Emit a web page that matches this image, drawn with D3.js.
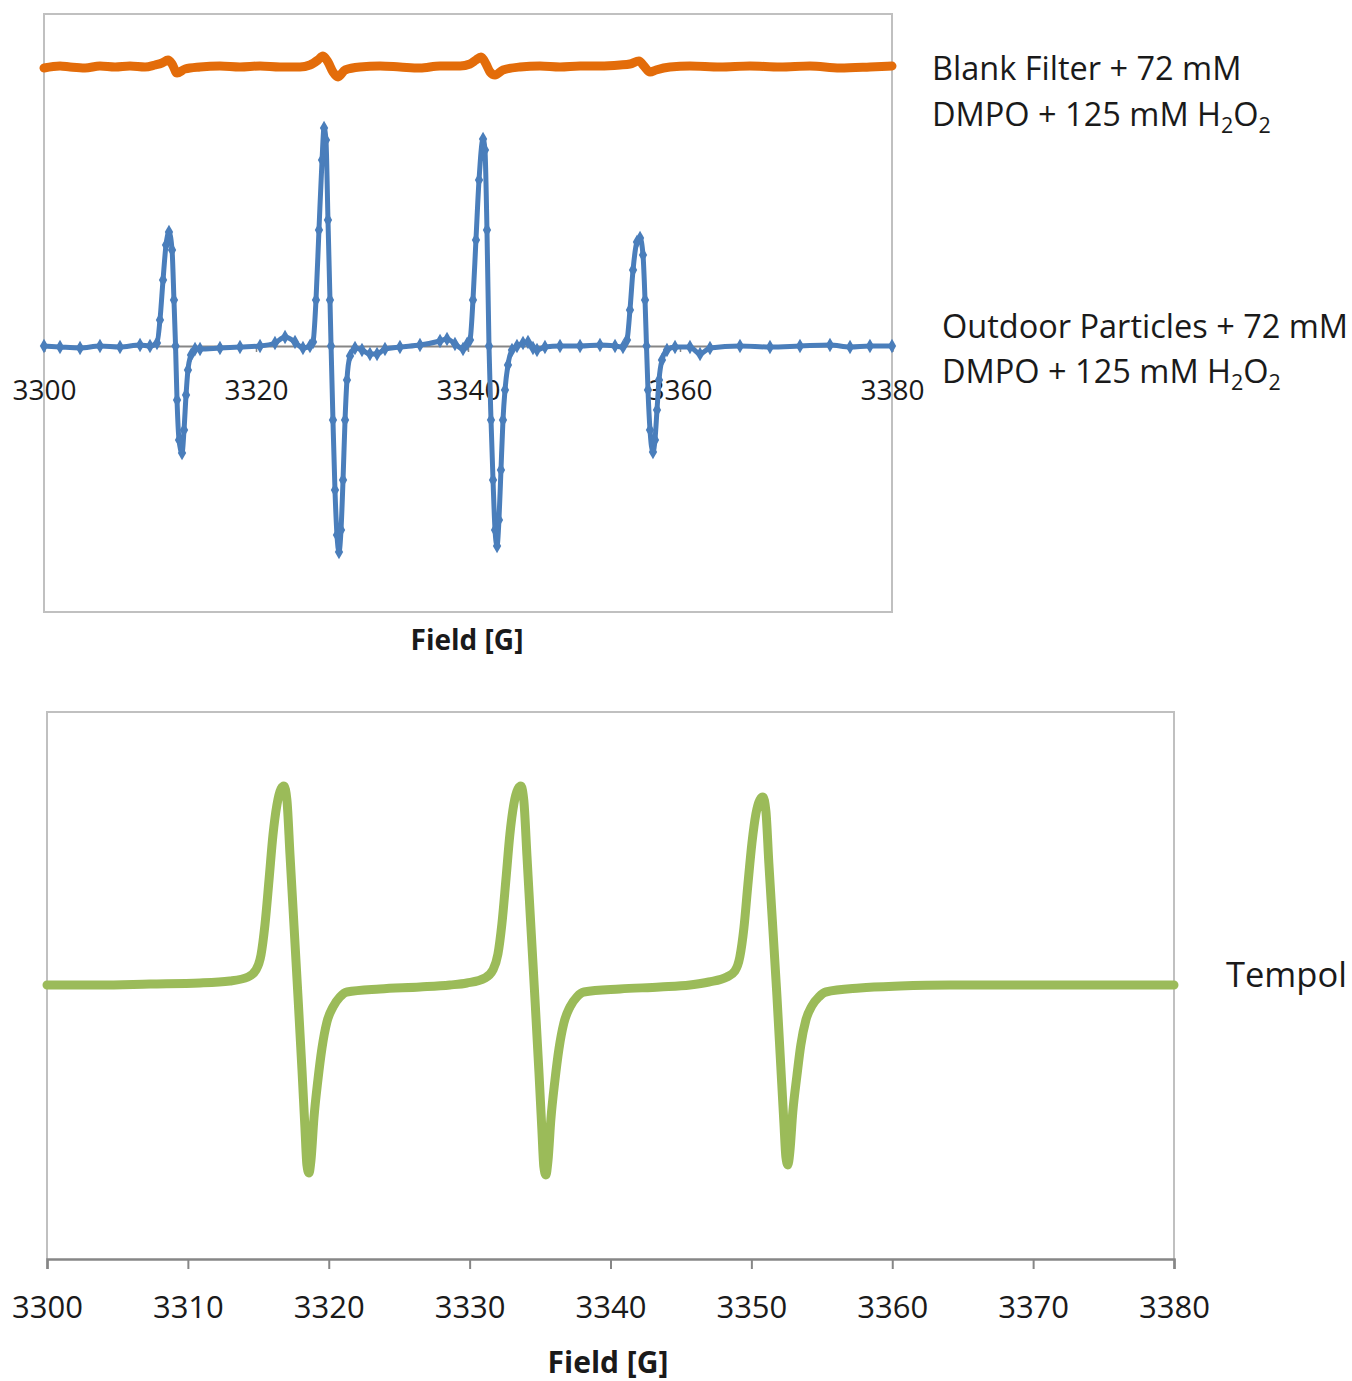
<!DOCTYPE html>
<html>
<head>
<meta charset="utf-8">
<script src="https://cdn.jsdelivr.net/npm/d3@7"></script>
<style>
    body { margin: 0; background: #fff; }
    text { font-family: "Open Sans", "Liberation Sans", sans-serif; fill: #1a1a1a; }
</style>
</head>
<body>
<svg id="chart" width="1352" height="1381"></svg>
<script>
window.addEventListener("load", main);

const WIDTH = 1352;
const HEIGHT = 1381;

// tick labels
const topTicks = [3300, 3320, 3340, 3360, 3380];
const bottomTicks = [3300, 3310, 3320, 3330, 3340, 3350, 3360, 3370, 3380];

// blank filter + DMPO + H2O2 (offset trace, a.u.)
const blankField = [3300.00, 3301.51, 3302.45, 3303.87, 3305.28, 3306.70, 3308.11, 3309.53, 3310.47, 3311.13,
    3311.70, 3312.08, 3312.55, 3313.30, 3314.72, 3316.60, 3318.49, 3320.38, 3322.26, 3324.15,
    3325.09, 3325.85, 3326.32, 3326.79, 3327.26, 3327.74, 3328.40, 3329.81, 3331.70, 3333.58,
    3335.47, 3337.36, 3339.25, 3340.19, 3340.75, 3341.23, 3341.70, 3342.08, 3342.55, 3343.30,
    3344.91, 3346.79, 3348.68, 3350.57, 3352.45, 3354.34, 3355.28, 3356.13, 3356.60, 3357.17,
    3357.74, 3359.06, 3360.94, 3363.77, 3366.60, 3369.43, 3372.26, 3375.09, 3377.92, 3380.00];
const blankSignal = [278, 280, 279, 278, 280, 279, 280, 279, 281, 283,
    286, 282, 273, 277, 279, 280, 279, 280, 279, 279,
    281, 286, 290, 284, 274, 269, 276, 279, 280, 279,
    278, 280, 280, 282, 286, 289, 282, 274, 271, 276,
    279, 280, 279, 280, 280, 281, 282, 285, 280, 274,
    276, 279, 280, 279, 280, 279, 280, 278, 279, 280];

// outdoor particles + DMPO + H2O2 (a.u.)
const particleField = [3300.00, 3301.51, 3303.40, 3305.28, 3307.17, 3309.06, 3310.00, 3310.66, 3310.94, 3311.23,
    3311.51, 3311.79, 3312.08, 3312.26, 3312.41, 3312.55, 3312.74, 3313.02, 3313.21, 3313.40,
    3313.58, 3313.87, 3314.25, 3314.72, 3316.60, 3318.49, 3320.38, 3321.79, 3322.74, 3323.68,
    3324.43, 3325.09, 3325.38, 3325.66, 3325.94, 3326.23, 3326.42, 3326.60, 3326.79, 3326.98,
    3327.08, 3327.26, 3327.45, 3327.64, 3327.83, 3328.02, 3328.21, 3328.40, 3328.58, 3328.87,
    3329.34, 3330.00, 3330.75, 3331.42, 3332.17, 3333.58, 3335.47, 3337.36, 3338.02, 3338.77,
    3339.53, 3339.91, 3340.19, 3340.47, 3340.75, 3341.04, 3341.42, 3341.60, 3341.79, 3341.98,
    3342.17, 3342.36, 3342.55, 3342.74, 3342.92, 3343.11, 3343.30, 3343.49, 3343.77, 3344.15,
    3344.62, 3345.19, 3345.66, 3346.13, 3346.51, 3347.26, 3348.68, 3350.57, 3352.45, 3353.87,
    3354.62, 3355.00, 3355.28, 3355.57, 3355.94, 3356.23, 3356.51, 3356.70, 3356.84, 3356.98,
    3357.17, 3357.45, 3357.64, 3357.83, 3358.02, 3358.30, 3358.77, 3359.53, 3360.94, 3361.89,
    3362.83, 3365.66, 3368.49, 3371.32, 3374.15, 3376.04, 3377.92, 3380.00];
const particleSignal = [0, -1, -2, 0, -1, 1, 0, 3, 26, 66,
    101, 114, 96, 46, 0, -54, -94, -107, -84, -49,
    -24, -9, -3, -3, -2, -1, 0, 3, 9, 4,
    -2, 0, 4, 46, 116, 186, 218, 206, 126, 46,
    0, -74, -144, -189, -206, -184, -134, -74, -34, -10,
    -2, -4, -8, -8, -3, -1, 1, 5, 7, 2,
    -3, 2, 6, 46, 106, 166, 207, 196, 116, 0,
    -74, -134, -184, -200, -174, -124, -74, -44, -19, -4,
    0, 3, 4, -2, -4, -1, 0, 0, 1, 0,
    -1, 6, 36, 76, 104, 108, 91, 46, 0, -44,
    -84, -106, -94, -64, -34, -14, -4, -1, -1, -8,
    -2, 0, -1, 0, 1, -1, 0, 0];

// tempol standard (a.u.)
const tempolField = [3300.00, 3303.76, 3307.31, 3310.86, 3312.99, 3314.27, 3314.83, 3315.19, 3315.47, 3315.76,
    3316.04, 3316.32, 3316.61, 3316.82, 3317.03, 3317.25, 3317.53, 3317.81, 3318.10, 3318.31,
    3318.45, 3318.59, 3318.74, 3318.95, 3319.23, 3319.52, 3319.87, 3320.30, 3320.79, 3321.29,
    3323.63, 3326.47, 3328.60, 3329.81, 3331.09, 3331.65, 3332.01, 3332.29, 3332.58, 3332.86,
    3333.14, 3333.43, 3333.64, 3333.85, 3334.07, 3334.35, 3334.63, 3334.92, 3335.13, 3335.27,
    3335.41, 3335.56, 3335.77, 3336.05, 3336.34, 3336.69, 3337.12, 3337.61, 3338.11, 3340.67,
    3343.51, 3345.64, 3346.98, 3348.26, 3348.83, 3349.18, 3349.47, 3349.75, 3350.04, 3350.32,
    3350.60, 3350.82, 3351.03, 3351.24, 3351.53, 3351.81, 3352.09, 3352.31, 3352.45, 3352.59,
    3352.73, 3352.94, 3353.23, 3353.51, 3353.87, 3354.29, 3354.79, 3355.29, 3357.70, 3360.54,
    3364.09, 3367.64, 3371.90, 3376.15, 3380.00];
const tempolSignal = [0, 0, 1, 2, 4, 8, 15, 30, 60, 105,
    150, 180, 196, 199, 185, 130, 60, -10, -85, -143,
    -180, -188, -175, -133, -95, -63, -37, -22, -12, -7,
    -4, -2, 0, 2, 7, 15, 31, 61, 106, 151,
    181, 196, 199, 184, 129, 58, -12, -87, -145, -182,
    -190, -176, -134, -96, -64, -38, -22, -12, -7, -4,
    -2, 0, 3, 8, 14, 28, 57, 100, 142, 171,
    185, 188, 174, 122, 55, -10, -82, -138, -172, -180,
    -167, -127, -91, -60, -35, -21, -12, -7, -3, -1,
    0, 0, 0, 0, 0];

const COLORS = {
    blank: "#e36c0a",
    particles: "#4a7ebb",
    tempol: "#9bbb59",
    border: "#c0c0c0",
    axis: "#868686"
};

function pairs(xs, ys){
    return xs.map((x, i)=>[x, ys[i]]);
}

function addLabel(svg, x, y, size, parts){
    // parts: [text, isSubscript]
    var t = svg.append("text")
        .attr("x", x)
        .attr("y", y)
        .style("font-size", size + "px");
    var shifted = false;
    parts.forEach(([s, sub])=>{
        var span = t.append("tspan").text(s);
        if (sub && !shifted){
            span.attr("dy", 7).style("font-size", (size * 0.66) + "px");
            shifted = true;
        } else if (sub){
            span.style("font-size", (size * 0.66) + "px");
        } else if (shifted){
            span.attr("dy", -7);
            shifted = false;
        }
    });
    return t;
}

function drawTop(svg){
    var x = d3.scaleLinear().domain([3300, 3380]).range([44, 892]);
    var y = d3.scaleLinear().domain([-266, 332]).range([612, 14]);

    svg.append("rect")
        .attr("x", 44).attr("y", 14)
        .attr("width", 848).attr("height", 598)
        .attr("fill", "none")
        .attr("stroke", COLORS.border)
        .attr("stroke-width", 2);

    var axis = svg.append("g")
        .attr("transform", `translate(0,${y(0)})`)
        .call(d3.axisBottom(x).tickValues(topTicks).tickSize(6).tickFormat(d3.format("d")));
    axis.select(".domain").attr("stroke", COLORS.axis).attr("stroke-width", 2);
    axis.selectAll(".tick line").attr("stroke", COLORS.axis).attr("stroke-width", 1.5);
    axis.selectAll(".tick text")
        .attr("y", 54).attr("dy", null)
        .attr("fill", "#1a1a1a")
        .style("font-family", "'Open Sans', sans-serif")
        .style("font-size", "28px");

    var line = d3.line()
        .x(d=>x(d[0]))
        .y(d=>y(d[1]))
        .curve(d3.curveMonotoneX);

    svg.append("path")
        .datum(pairs(blankField, blankSignal))
        .attr("d", line)
        .attr("fill", "none")
        .attr("stroke", COLORS.blank)
        .attr("stroke-width", 9)
        .attr("stroke-linejoin", "round")
        .attr("stroke-linecap", "round");

    var blue = pairs(particleField, particleSignal);
    svg.append("path")
        .datum(blue)
        .attr("d", line)
        .attr("fill", "none")
        .attr("stroke", COLORS.particles)
        .attr("stroke-width", 5)
        .attr("stroke-linejoin", "round");

    svg.append("g").selectAll("path")
        .data(blue)
        .join("path")
        .attr("transform", d=>`translate(${x(d[0])},${y(d[1])})`)
        .attr("d", d3.symbol(d3.symbolDiamond, 60))
        .attr("fill", COLORS.particles);

    svg.append("text")
        .attr("x", 467).attr("y", 650)
        .attr("text-anchor", "middle")
        .style("font-size", "28px")
        .style("font-weight", "bold")
        .text("Field [G]");

    addLabel(svg, 932, 80, 32.5, [["Blank Filter + 72 mM", false]]);
    addLabel(svg, 932, 126, 32.5, [["DMPO + 125 mM H", false], ["2", true], ["O", false], ["2", true]]);
    addLabel(svg, 942, 338, 32.5, [["Outdoor Particles + 72 mM", false]]);
    addLabel(svg, 942, 383, 32.5, [["DMPO + 125 mM H", false], ["2", true], ["O", false], ["2", true]]);
}

function drawBottom(svg){
    var x = d3.scaleLinear().domain([3300, 3380]).range([47, 1174]);
    var y = d3.scaleLinear().domain([-274, 273]).range([1259, 712]);

    svg.append("path")
        .attr("d", `M47,1259V712H1174V1259`)
        .attr("fill", "none")
        .attr("stroke", COLORS.border)
        .attr("stroke-width", 2);

    var axis = svg.append("g")
        .attr("transform", "translate(0,1259)")
        .call(d3.axisBottom(x).tickValues(bottomTicks).tickSize(10).tickSizeOuter(10).tickFormat(d3.format("d")));
    axis.select(".domain").attr("stroke", COLORS.axis).attr("stroke-width", 2.5);
    axis.selectAll(".tick line").attr("stroke", COLORS.axis).attr("stroke-width", 2);
    axis.selectAll(".tick text")
        .attr("y", 59).attr("dy", null)
        .attr("fill", "#1a1a1a")
        .style("font-family", "'Open Sans', sans-serif")
        .style("font-size", "31px");

    var line = d3.line()
        .x(d=>x(d[0]))
        .y(d=>y(d[1]))
        .curve(d3.curveMonotoneX);

    svg.append("path")
        .datum(pairs(tempolField, tempolSignal))
        .attr("d", line)
        .attr("fill", "none")
        .attr("stroke", COLORS.tempol)
        .attr("stroke-width", 9)
        .attr("stroke-linejoin", "round")
        .attr("stroke-linecap", "round");

    svg.append("text")
        .attr("x", 608).attr("y", 1373)
        .attr("text-anchor", "middle")
        .style("font-size", "30px")
        .style("font-weight", "bold")
        .text("Field [G]");

    addLabel(svg, 1226, 987, 34.5, [["Tempol", false]]);
}

function main(){
    var svg = d3.select("#chart")
        .attr("width", WIDTH)
        .attr("height", HEIGHT);

    drawTop(svg);
    drawBottom(svg);
}
</script>
</body>
</html>
